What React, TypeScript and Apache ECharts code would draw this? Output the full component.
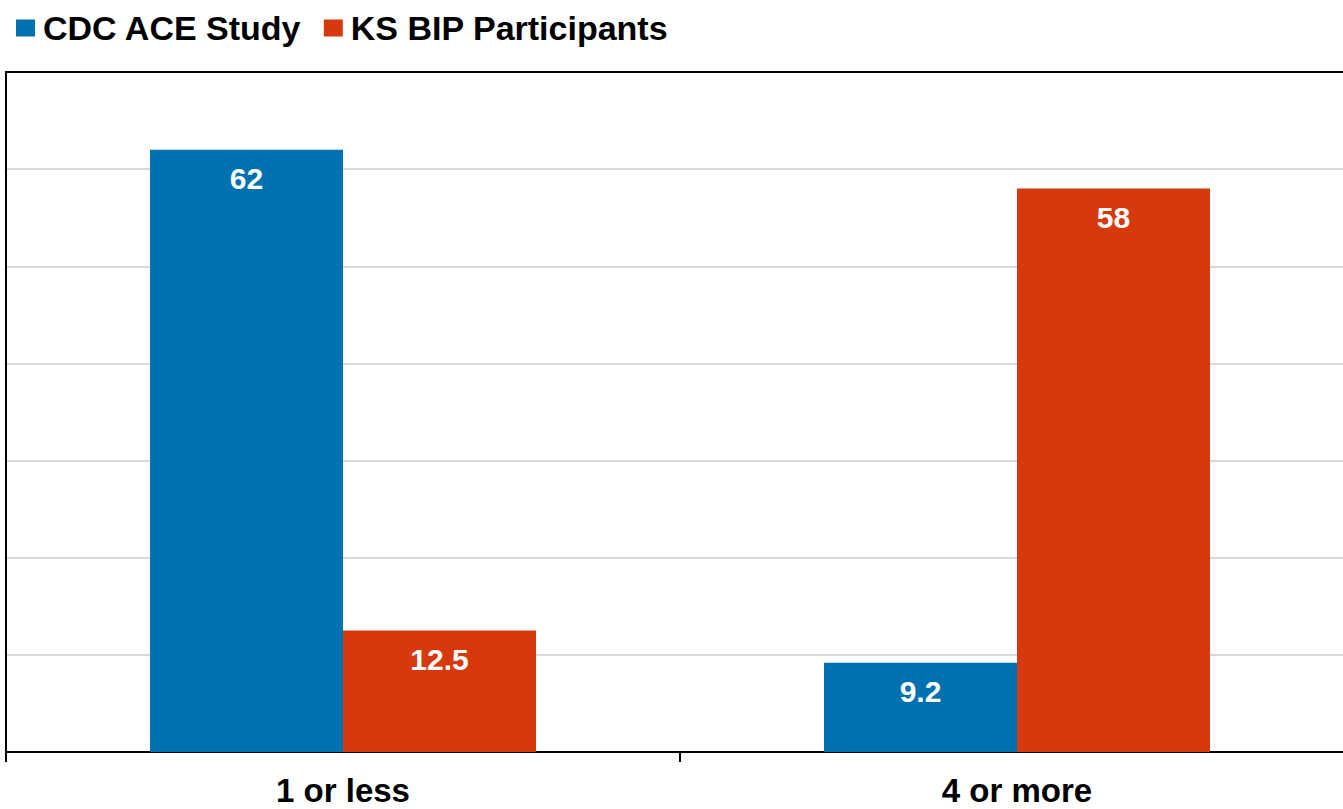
import React, { useEffect, useRef } from "react";
import * as echarts from "echarts";

const categories = ["1 or less", "4 or more"];
const seriesNames = ["CDC ACE Study", "KS BIP Participants"];
const cdcValues = [62, 9.2];
const ksValues = [12.5, 58];
const colors = ["#0071B0", "#D6390D"];

export default function App() {
  const ref = useRef<HTMLDivElement>(null);
  useEffect(() => {
    if (!ref.current) return;
    const chart = echarts.init(ref.current, undefined, { renderer: "svg" });
    const font = "'Liberation Sans', Arial, sans-serif";
    const label = {
      show: true,
      position: "insideTop",
      distance: 14,
      color: "#ffffff",
      fontFamily: font,
      fontWeight: "bold",
      fontSize: 30,
    };
    chart.setOption({
      animation: false,
      backgroundColor: "#ffffff",
      color: colors,
      legend: {
        left: 11,
        top: 6,
        itemWidth: 19,
        itemHeight: 17,
        itemGap: 22,
        icon: "rect",
        textStyle: {
          fontFamily: font,
          fontWeight: "bold",
          fontSize: 34,
          color: "#000000",
          padding: [0, 0, 0, 3],
        },
        data: seriesNames,
      },
      grid: { left: 6, right: 0, top: 72, bottom: 57, containLabel: false },
      xAxis: [
        {
          type: "category",
          data: categories,
          axisLine: { show: true, lineStyle: { color: "#000000", width: 2 } },
          axisTick: { show: true, length: 10, lineStyle: { color: "#000000", width: 2 } },
          axisLabel: {
            fontFamily: font,
            fontWeight: "bold",
            fontSize: 33,
            color: "#000000",
            margin: 22,
          },
        },
        {
          type: "category",
          data: categories,
          position: "top",
          axisLine: { show: true, onZero: false, lineStyle: { color: "#000000", width: 2 } },
          axisTick: { show: false },
          axisLabel: { show: false },
        },
      ],
      yAxis: {
        type: "value",
        min: 0,
        max: 70,
        interval: 10,
        axisLine: { show: true, lineStyle: { color: "#000000", width: 2 } },
        axisTick: { show: false },
        axisLabel: { show: false },
        splitLine: { show: true, lineStyle: { color: "#D9D9D9", width: 2 } },
      },
      series: [
        {
          name: seriesNames[0],
          type: "bar",
          data: cdcValues,
          barWidth: 193,
          barGap: "0%",
          label,
        },
        {
          name: seriesNames[1],
          type: "bar",
          data: ksValues,
          barWidth: 193,
          barGap: "0%",
          label,
        },
      ],
    });
    return () => chart.dispose();
  }, []);
  return (
    <div
      style={{
        position: "fixed",
        left: 0,
        top: 0,
        width: "1343px",
        height: "809px",
        overflow: "hidden",
        background: "#ffffff",
      }}
    >
      <div ref={ref} style={{ width: "1354px", height: "809px" }} />
    </div>
  );
}
